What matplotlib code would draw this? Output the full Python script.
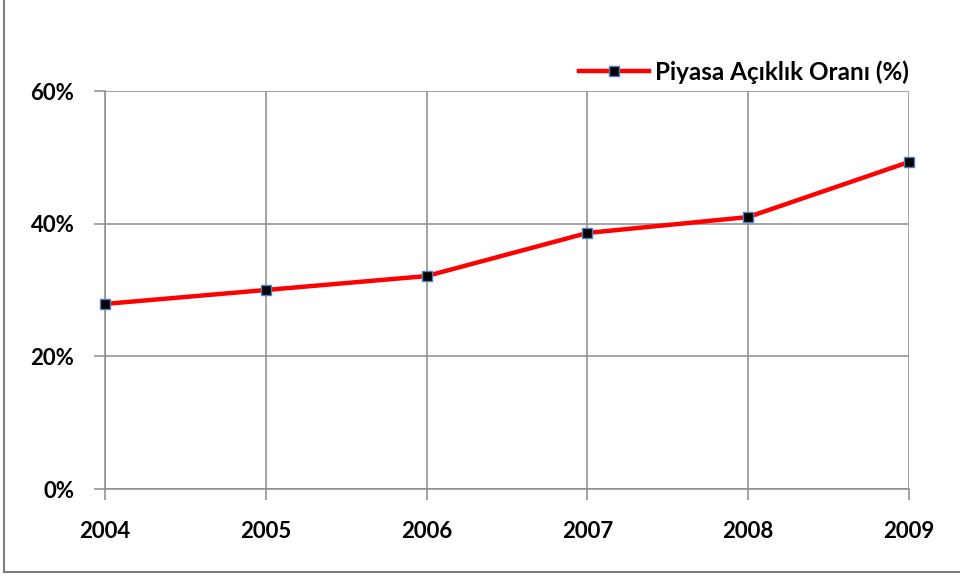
import matplotlib
matplotlib.use("Agg")
import matplotlib.pyplot as plt
from matplotlib.lines import Line2D
from matplotlib.ticker import FuncFormatter

years = ["2004", "2005", "2006", "2007", "2008", "2009"]
values = [27.9, 30.0, 32.1, 38.6, 41.0, 49.3]
series_name = "Piyasa Açıklık Oranı (%)"
yticks = [0, 20, 40, 60]

plt.rcParams['font.family'] = ['Lato', 'DejaVu Sans']

fig = plt.figure(figsize=(9.6, 5.76), dpi=100)
ax = fig.add_axes([105/960, 1 - 489/576, (909 - 105)/960, (489 - 91)/576])

x = list(range(len(years)))
ax.plot(x, values, color="#FF0000", lw=3.2, marker="s", markersize=7,
        markerfacecolor="black", markeredgecolor="#4F81BD", markeredgewidth=1,
        solid_capstyle="round", zorder=3, clip_on=False)

ax.set_xlim(0, len(years) - 1)
ax.set_ylim(0, 60)
ax.set_xticks(x)
ax.set_xticklabels(years)
ax.set_yticks(yticks)
ax.yaxis.set_major_formatter(FuncFormatter(lambda v, p: f"{int(v)}%"))

grid_c = "#8C8C8C"
ax.grid(True, color=grid_c, lw=1.1)
ax.set_axisbelow(True)
for s in ["top", "right"]:
    ax.spines[s].set_visible(False)
for s in ["left", "bottom"]:
    ax.spines[s].set_color(grid_c)
    ax.spines[s].set_linewidth(1.1)
ax.tick_params(axis="both", colors=grid_c, length=8, width=1.1, direction="out")
ax.tick_params(axis="y", labelcolor="black", labelsize=16, pad=14)
ax.tick_params(axis="x", labelcolor="black", labelsize=16, pad=15)
for lab in ax.get_xticklabels() + ax.get_yticklabels():
    lab.set_fontweight("bold")

handle = Line2D([], [], color="#FF0000", lw=3.2, marker="s", markersize=7,
                markerfacecolor="black", markeredgecolor="#4F81BD", markeredgewidth=1)
leg = ax.legend([handle], [series_name], loc="center right",
                bbox_to_anchor=(1.0, (489 - 72) / (489 - 91)),
                frameon=False, prop={"weight": "bold", "size": 17.5},
                handlelength=2.9, handletextpad=0.25, borderaxespad=0.0,
                borderpad=0.0)

# outer chart border (partially visible)
border_c = "#7F7F7F"
fig.add_artist(Line2D([4/960, 4/960], [1 - 572/576, 1.0], transform=fig.transFigure,
                      color=border_c, lw=1.5))
fig.add_artist(Line2D([4/960, 1.0], [1 - 572/576, 1 - 572/576], transform=fig.transFigure,
                      color=border_c, lw=1.5))

fig.savefig("out.png", dpi=100)
